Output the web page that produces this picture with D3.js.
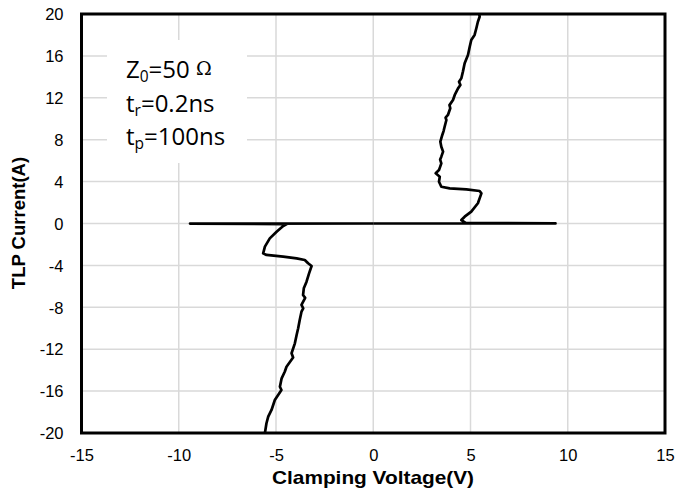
<!DOCTYPE html>
<html><head><meta charset="utf-8">
<script src="https://cdn.jsdelivr.net/npm/d3@7"></script>
<style>body{margin:0;background:#fff}</style>
</head><body>
<svg id="c" width="678" height="497"></svg>
<script>
const xTicks = [-15,-10,-5,0,5,10,15];
const yTicks = [-20,-16,-12,-8,-4,0,4,8,12,16,20];
// positive branch: [voltage, current]
const posV = [0,9.37,4.75,4.53,4.70,5.04,5.38,5.56,5.47,4.79,3.93,3.50,3.38,3.42,3.21,3.38,3.50,3.44,3.50,3.59,3.50,3.45,3.55,3.62,3.67,3.76,3.72,3.84,3.96,3.92,4.10,4.19,4.36,4.48,4.41,4.53,4.61,4.70,4.87,4.96,5.04,5.21,5.30,5.38,5.47,5.45];
const posI = [0,0.01,0.05,0.33,0.65,1.13,1.93,2.88,3.10,3.26,3.36,3.51,3.99,4.47,4.79,5.10,5.74,6.10,6.38,6.86,7.33,7.81,8.45,8.85,9.24,9.88,10.1,10.36,11.0,11.3,11.79,12.27,12.9,13.22,13.54,13.86,14.5,15.3,16.09,16.88,17.52,18.0,18.64,19.26,19.74,20];
// negative branch
const negV = [0,-9.42,-4.45,-4.63,-4.97,-5.32,-5.57,-5.66,-5.49,-4.63,-3.94,-3.52,-3.35,-3.17,-3.30,-3.43,-3.57,-3.61,-3.50,-3.69,-3.60,-3.69,-3.78,-3.86,-3.94,-4.03,-4.20,-4.12,-4.46,-4.55,-4.71,-4.80,-4.72,-5.06,-5.23,-5.40,-5.49,-5.57];
const negI = [0,-0.01,-0.06,-0.24,-0.78,-1.42,-2.21,-2.85,-3.0,-3.17,-3.33,-3.48,-3.8,-4.06,-4.76,-5.55,-6.19,-6.83,-7.1,-7.78,-8.1,-8.42,-9.21,-10.0,-10.64,-11.44,-12.39,-12.8,-13.67,-14.15,-14.78,-15.58,-15.9,-16.85,-17.8,-18.44,-19.07,-20];

const svg = d3.select("#c");
const L=81.5, R=665, T=14, B=433;
const x = d3.scaleLinear().domain([-15,15]).range([L,R]);
const y = d3.scaleLinear().domain([-20,20]).range([B,T]);

// grid
svg.append("g").selectAll("line").data(xTicks.slice(1,-1)).join("line")
  .attr("x1",d=>x(d)).attr("x2",d=>x(d)).attr("y1",T).attr("y2",B)
  .attr("stroke","#d9d9d9").attr("stroke-width",1.5);
svg.append("g").selectAll("line").data(yTicks.slice(1,-1)).join("line")
  .attr("y1",d=>y(d)).attr("y2",d=>y(d)).attr("x1",L).attr("x2",R)
  .attr("stroke","#d9d9d9").attr("stroke-width",1.5);

// text box background
svg.append("rect").attr("x",107).attr("y",40).attr("width",140).attr("height",123).attr("fill","#fff");

// curves
const line = d3.line().x(d=>x(d[0])).y(d=>y(d[1])).curve(d3.curveLinear);
svg.append("path").datum(posV.map((v,i)=>[v,posI[i]])).attr("d",line)
  .attr("fill","none").attr("stroke","#000").attr("stroke-width",2.7).attr("stroke-linejoin","round");
svg.append("path").datum(negV.map((v,i)=>[v,negI[i]])).attr("d",line)
  .attr("fill","none").attr("stroke","#000").attr("stroke-width",2.7).attr("stroke-linejoin","round");

// frame
svg.append("rect").attr("x",L).attr("y",T).attr("width",R-L).attr("height",B-T)
  .attr("fill","none").attr("stroke","#000").attr("stroke-width",3);

// axes
const fmt = d => String(d);
const af = "'Liberation Sans', Arial, sans-serif";
const xAxis = d3.axisBottom(x).tickValues(xTicks).tickFormat(fmt).tickSize(0).tickPadding(0);
const gx = svg.append("g").attr("transform",`translate(0,${B})`).call(xAxis);
gx.select(".domain").remove();
gx.selectAll("text").attr("y",28).attr("dy",0).attr("font-family",af).attr("font-size",16.5).attr("fill","#000");
const yAxis = d3.axisLeft(y).tickValues(yTicks).tickFormat(fmt).tickSize(0).tickPadding(0);
const gy = svg.append("g").attr("transform",`translate(${L},0)`).call(yAxis);
gy.select(".domain").remove();
gy.selectAll("text").attr("x",-18).attr("dy","0.35em").attr("font-family",af).attr("font-size",16.5).attr("fill","#000");

// axis titles
svg.append("text").attr("x",373).attr("y",484).attr("text-anchor","middle")
  .attr("font-family",af).attr("font-weight","bold").attr("font-size",18.5)
  .attr("textLength",202).attr("lengthAdjust","spacingAndGlyphs")
  .text("Clamping Voltage(V)");
svg.append("text").attr("transform","translate(25,223) rotate(-90)").attr("text-anchor","middle")
  .attr("font-family",af).attr("font-weight","bold").attr("font-size",18.5)
  .text("TLP Current(A)");

// annotation
const ff = "'Open Sans', 'Noto Sans', sans-serif";
const fs = 24, sub = 15.5;
const a1 = svg.append("text").attr("x",126).attr("y",78).attr("font-family",ff).attr("font-size",fs).attr("fill","#000");
a1.append("tspan").text("Z");
a1.append("tspan").attr("font-size",sub).attr("dy",4).text("0");
a1.append("tspan").attr("dy",-4).text("=50 ");
a1.append("tspan").attr("font-size",19).attr("font-family","'DejaVu Serif', serif").attr("dy",-3).text("Ω");
const a2 = svg.append("text").attr("x",126).attr("y",112).attr("font-family",ff).attr("font-size",fs).attr("fill","#000");
a2.append("tspan").text("t");
a2.append("tspan").attr("font-size",sub).attr("dy",4).text("r");
a2.append("tspan").attr("dy",-4).text("=0.2ns");
const a3 = svg.append("text").attr("x",126).attr("y",145).attr("font-family",ff).attr("font-size",fs).attr("fill","#000");
a3.append("tspan").text("t");
a3.append("tspan").attr("font-size",sub).attr("dy",4).text("p");
a3.append("tspan").attr("dy",-4).text("=100ns");
</script>
</body></html>
